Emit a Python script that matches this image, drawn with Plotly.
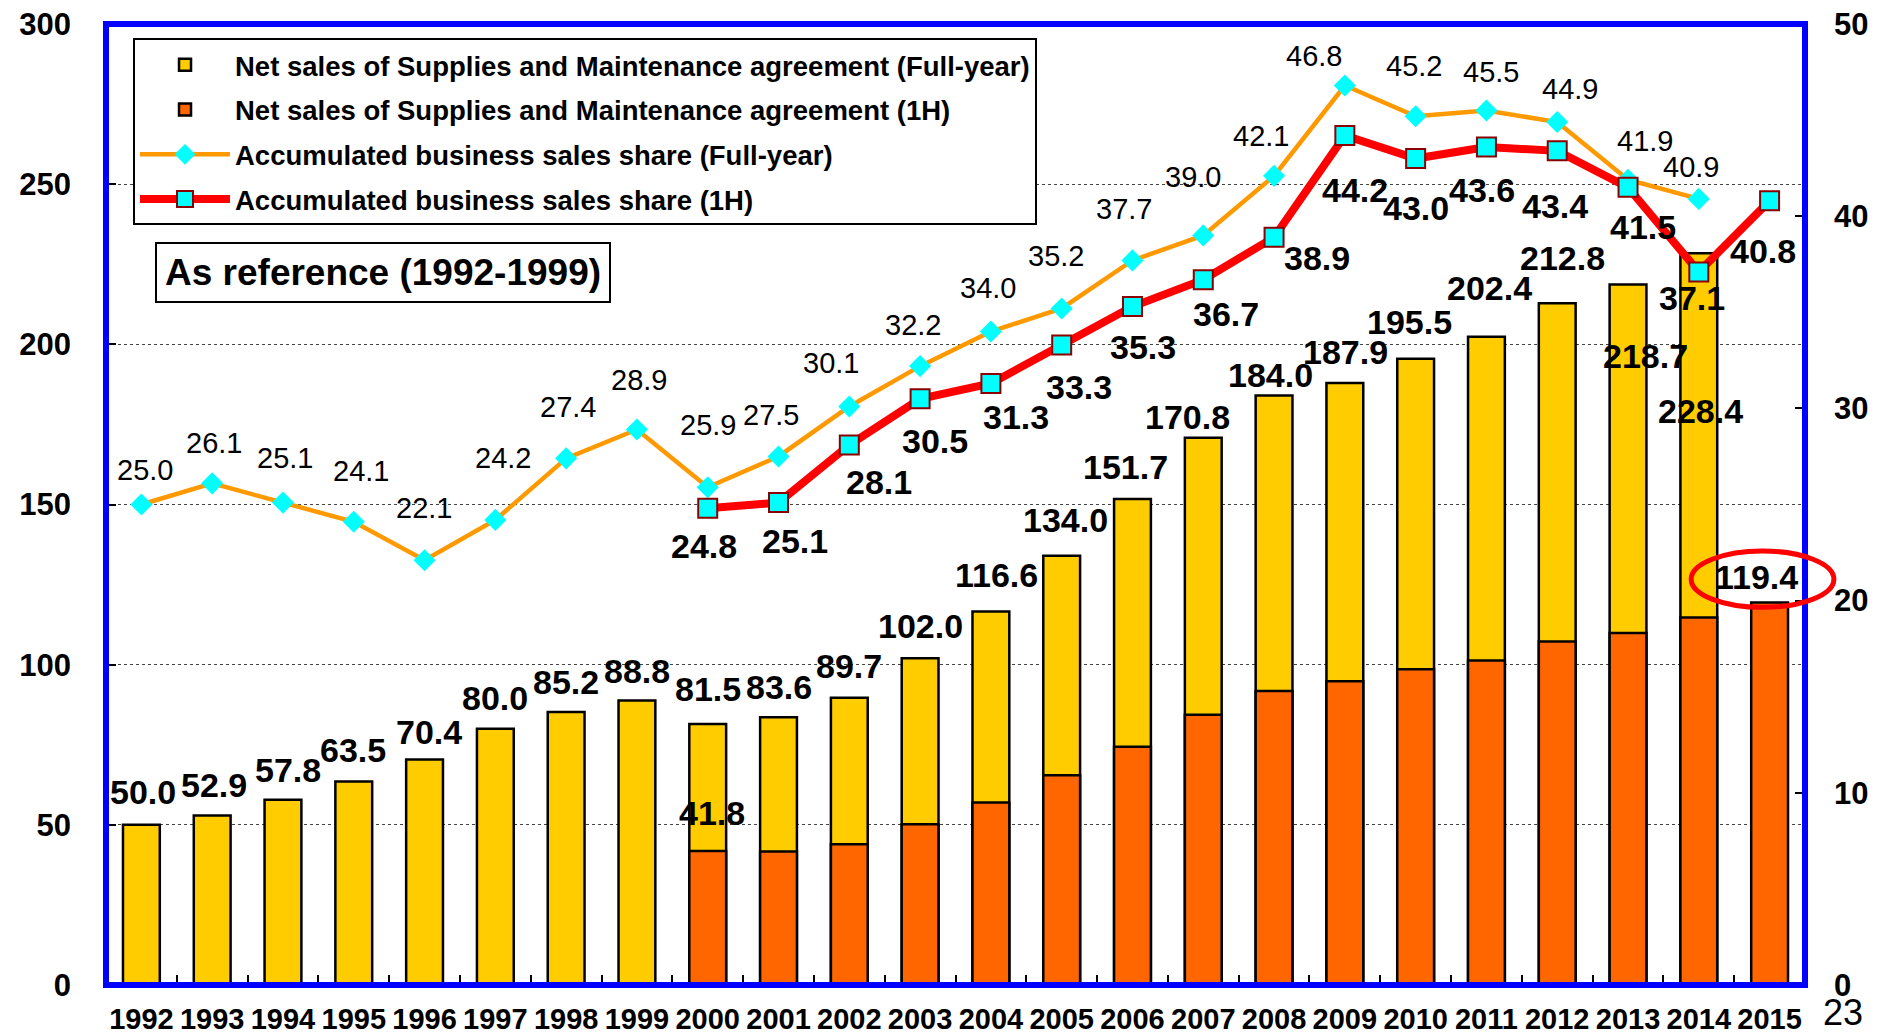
import plotly.graph_objects as go

# ---------------- data ----------------
years = ["1992", "1993", "1994", "1995", "1996", "1997", "1998", "1999",
         "2000", "2001", "2002", "2003", "2004", "2005", "2006", "2007",
         "2008", "2009", "2010", "2011", "2012", "2013", "2014", "2015"]

sales_full_year = [50.0, 52.9, 57.8, 63.5, 70.4, 80.0, 85.2, 88.8,
                   81.5, 83.6, 89.7, 102.0, 116.6, 134.0, 151.7, 170.8,
                   184.0, 187.9, 195.5, 202.4, 212.8, 218.7, 228.4, None]

sales_1h = [None, None, None, None, None, None, None, None,
            41.8, 41.7, 43.9, 50.2, 57.0, 65.5, 74.4, 84.4,
            91.8, 94.8, 98.6, 101.3, 107.2, 109.9, 114.7, 119.4]

share_full_year = [25.0, 26.1, 25.1, 24.1, 22.1, 24.2, 27.4, 28.9,
                   25.9, 27.5, 30.1, 32.2, 34.0, 35.2, 37.7, 39.0,
                   42.1, 46.8, 45.2, 45.5, 44.9, 41.9, 40.9, None]

share_1h = [None, None, None, None, None, None, None, None,
            24.8, 25.1, 28.1, 30.5, 31.3, 33.3, 35.3, 36.7,
            38.9, 44.2, 43.0, 43.6, 43.4, 41.5, 37.1, 40.8]

labeled_1h_sales_years = ["2000", "2015"]

names = ["Net sales of Supplies and Maintenance agreement (Full-year)",
         "Net sales of Supplies and Maintenance agreement (1H)",
         "Accumulated business sales share (Full-year)",
         "Accumulated business sales share (1H)"]

# ---------------- label offsets (pixels, style only) ----------------
fy_bar_shift = [(2, 33), (2, 31), (5, 30), (-1, 32), (4, 27), (0, 31), (0, 30), (0, 30),
                (0, 35), (0, 30), (0, 32), (0, 32), (6, 36), (4, 36), (-7, 32), (-16, 21),
                (-4, 21), (1, 31), (-6, 37), (3, 49), (5, 45), (17, -72), (2, -158), (0, 0)]
h1_bar_shift = {"2000": (4, 38), "2015": (-13, 26)}
fy_share_shift = [(4, 35), (2, 40), (2, 45), (7, 51), (-1, 52), (8, 62), (2, 51), (2, 50),
                  (0, 62), (-8, 41), (-18, 43), (-7, 41), (-3, 44), (-6, 52), (-8, 51), (-10, 58),
                  (-13, 40), (-31, 30), (-2, 50), (5, 38), (13, 33), (17, 39), (-8, 32), (0, 0)]
h1_share_shift = [(0, 0)] * 8 + [(-4, -38), (16, -38), (30, -37), (15, -42), (25, -34), (17, -42),
                                 (11, -40), (23, -34), (43, -21), (10, -55), (0, -49), (-4, -43),
                                 (-2, -55), (15, -40), (-7, -26), (-7, -50)]

FONT = "Liberation Sans, Arial, sans-serif"

fig = go.Figure()

fig.add_trace(go.Bar(
    x=years, y=sales_full_year, name=names[0], legendgroup="g1",
    width=0.52, marker=dict(color="#FFCC00", line=dict(color="black", width=2.5)),
    hoverinfo="skip"))
fig.add_trace(go.Bar(
    x=years, y=sales_1h, name=names[1], legendgroup="g2",
    width=0.52, marker=dict(color="#FF6600", line=dict(color="black", width=2.5)),
    hoverinfo="skip"))
fig.add_trace(go.Scatter(
    x=years, y=share_full_year, name=names[2], yaxis="y2", legendgroup="g3",
    mode="lines+markers", line=dict(color="#FF9900", width=4.5),
    marker=dict(symbol="diamond", size=17, color="#00FFFF"), cliponaxis=False))
fig.add_trace(go.Scatter(
    x=years, y=share_1h, name=names[3], yaxis="y2", legendgroup="g4",
    mode="lines+markers", line=dict(color="#FF0000", width=8),
    marker=dict(symbol="square", size=19, color="#00FFFF", line=dict(color="#8B0000", width=2)),
    cliponaxis=False))

annotations = []
bold_font = dict(family=FONT, size=34, color="black", weight="bold")
norm_font = dict(family=FONT, size=29, color="black")

# category axes take the serial index of each category for annotations
for i, yr in enumerate(years):
    v = sales_full_year[i]
    if v is not None:
        dx, dy = fy_bar_shift[i]
        annotations.append(dict(x=i, y=v, xref="x", yref="y", text=f"{v:.1f}",
                                showarrow=False, xshift=dx, yshift=dy, font=bold_font,
                                xanchor="center", yanchor="middle"))
    v = sales_1h[i]
    if v is not None and yr in labeled_1h_sales_years:
        dx, dy = h1_bar_shift[yr]
        annotations.append(dict(x=i, y=v, xref="x", yref="y", text=f"{v:.1f}",
                                showarrow=False, xshift=dx, yshift=dy, font=bold_font,
                                xanchor="center", yanchor="middle"))
    v = share_full_year[i]
    if v is not None:
        dx, dy = fy_share_shift[i]
        annotations.append(dict(x=i, y=v, xref="x", yref="y2", text=f"{v:.1f}",
                                showarrow=False, xshift=dx, yshift=dy, font=norm_font,
                                xanchor="center", yanchor="middle"))
    v = share_1h[i]
    if v is not None:
        dx, dy = h1_share_shift[i]
        annotations.append(dict(x=i, y=v, xref="x", yref="y2", text=f"{v:.1f}",
                                showarrow=False, xshift=dx, yshift=dy, font=bold_font,
                                xanchor="center", yanchor="middle"))

annotations.append(dict(x=0.163, y=0.741, xref="paper", yref="paper",
                        text="As reference (1992-1999)", showarrow=False,
                        xanchor="center", yanchor="middle",
                        font=dict(family=FONT, size=37, color="black", weight="bold"),
                        bgcolor="white", bordercolor="black", borderwidth=2, borderpad=8))
annotations.append(dict(x=1.0225, y=-0.052, xref="paper", yref="paper", text="23",
                        showarrow=False, xanchor="center", yanchor="bottom",
                        font=dict(family=FONT, size=36, color="black")))

shapes = [
    dict(type="rect", xref="paper", yref="paper", x0=0, x1=1, y0=0, y1=1,
         line=dict(color="#0000FF", width=6), layer="above"),
    dict(type="circle", xref="paper", yref="paper", x0=0.933, x1=1.017, y0=0.393, y1=0.4516,
         line=dict(color="#FF0000", width=5), layer="above"),
]

fig.update_layout(
    width=1890, height=1035,
    margin=dict(l=106, r=85, t=24, b=50, autoexpand=False),
    paper_bgcolor="white", plot_bgcolor="white",
    barmode="overlay",
    font=dict(family=FONT, color="black"),
    showlegend=True,
    legend=dict(x=0.0159, y=0.985, xanchor="left", yanchor="top",
                bgcolor="white", bordercolor="black", borderwidth=2,
                font=dict(family=FONT, size=27.5, color="black", weight="bold"),
                tracegroupgap=6, itemwidth=90, traceorder="grouped"),
    xaxis=dict(type="category", categoryorder="array", categoryarray=years,
               range=[-0.5, len(years) - 0.5], autorange=False,
               showgrid=False, zeroline=False, showline=False, automargin=False,
               ticks="inside", tickson="boundaries", ticklen=10, tickcolor="black", tickwidth=1.5,
               tickangle=0,
               tickfont=dict(family=FONT, size=29, color="black", weight="bold"),
               ticklabelstandoff=14),
    yaxis=dict(range=[0, 300], dtick=50, showgrid=True, gridcolor="#444444",
               griddash="dot", gridwidth=1, zeroline=False, showline=False, automargin=False,
               ticks="inside", ticklen=10, tickcolor="black", tickwidth=1.5,
               tickfont=dict(family=FONT, size=31, color="black", weight="bold"),
               ticklabelstandoff=34),
    yaxis2=dict(range=[0, 50], dtick=10, overlaying="y", side="right",
                showgrid=False, zeroline=False, showline=False, automargin=False,
                ticks="inside", ticklen=10, tickcolor="black", tickwidth=1.5,
                tickfont=dict(family=FONT, size=31, color="black", weight="bold"),
                ticklabelstandoff=28),
    annotations=annotations,
    shapes=shapes,
)

fig.write_html("out.html")
